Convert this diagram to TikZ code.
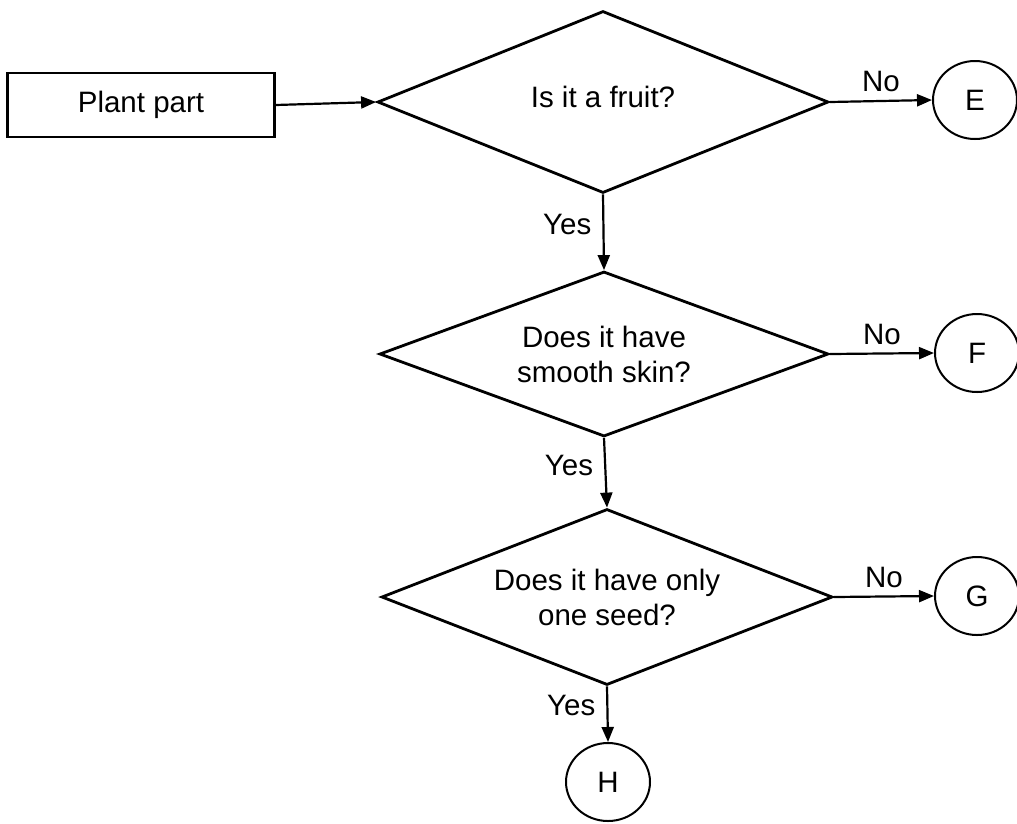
\documentclass[tikz,border=0pt]{standalone}
\usepackage{fontspec}
\setmainfont{Liberation Sans}
\usetikzlibrary{shapes.geometric,arrows.meta}
\begin{document}
\begin{tikzpicture}[x=1pt,y=-1pt,
  font=\fontsize{29.5}{35}\selectfont,
  box/.style={draw, line width=2.5pt, minimum width=267pt, minimum height=64pt, inner sep=0pt},
  decision/.style={draw, diamond, aspect=2.5, line width=2.8pt, inner sep=0pt, align=center},
  term/.style={draw, ellipse, line width=2pt, minimum width=84pt, minimum height=78pt, inner sep=0pt},
  conn/.style={line width=2.2pt, -{Triangle[length=15pt,width=12pt]}},
  lab/.style={inner sep=2pt}
]
\useasboundingbox (0,0) rectangle (1017,823);

\node[box] (rect) at (141,105) {Plant part};

\node[decision, minimum width=451pt, minimum height=182pt] (d1) at (603,102) {\raisebox{11pt}{Is it a fruit?}};
\node[decision, minimum width=449pt, minimum height=165pt] (d2) at (604,354) {Does it have\\smooth skin?};
\node[decision, minimum width=451pt, minimum height=176pt] (d3) at (607,597) {Does it have only\\one seed?};

\node[term] (E) at (975,100) {E};
\node[term] (F) at (977,353) {F};
\node[term] (G) at (977,596) {G};
\node[term] (H) at (608,782) {H};

\draw[conn] (rect.east) -- (d1.west);
\draw[conn] (d1.east) -- node[lab, above=6pt] {No} (E.west);
\draw[conn] (d2.east) -- node[lab, above=6pt] {No} (F.west);
\draw[conn] (d3.east) -- node[lab, above=6pt] {No} (G.west);
\draw[conn] (d1.south) -- node[lab, left=9pt, pos=0.4] {Yes} (d2.north);
\draw[conn] (d2.south) -- node[lab, left=9pt, pos=0.4] {Yes} (d3.north);
\draw[conn] (d3.south) -- node[lab, left=9pt, pos=0.35] {Yes} (H.north);
\end{tikzpicture}
\end{document}
